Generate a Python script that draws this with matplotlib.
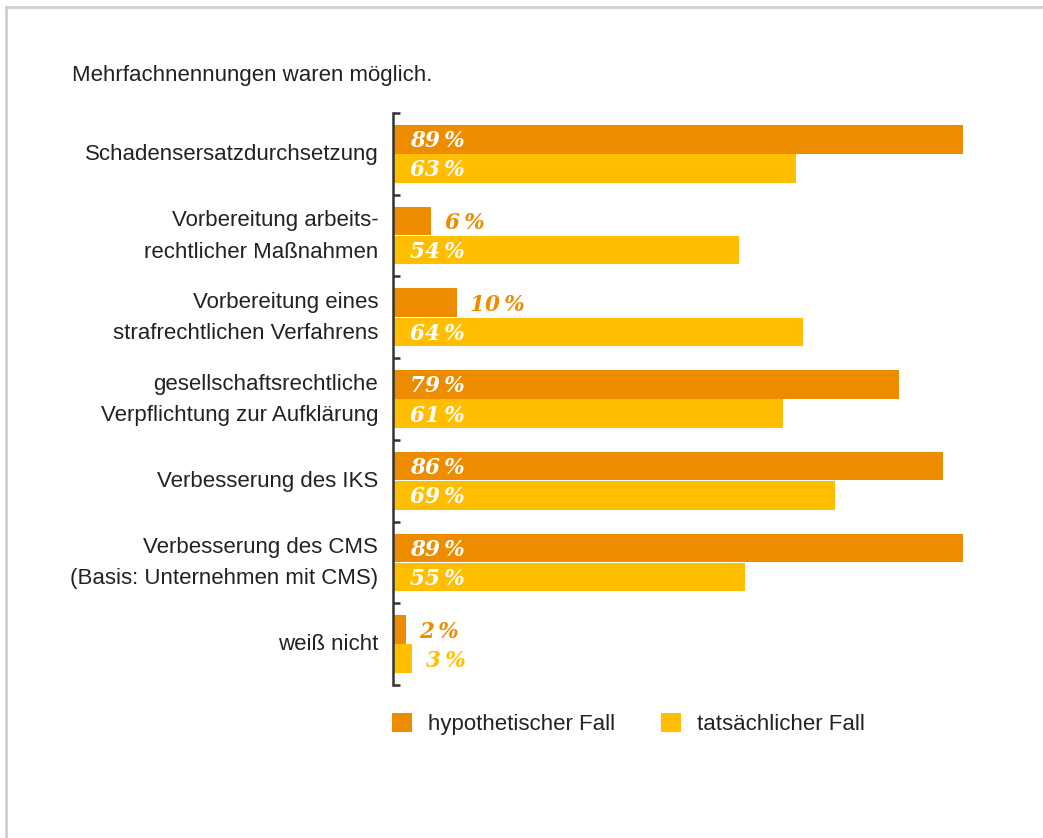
import matplotlib
matplotlib.use("Agg")
import matplotlib.pyplot as plt
from matplotlib.patches import Patch
from matplotlib.lines import Line2D

categories = [
    "Schadensersatzdurchsetzung",
    "Vorbereitung arbeits-\nrechtlicher Maßnahmen",
    "Vorbereitung eines\nstrafrechtlichen Verfahrens",
    "gesellschaftsrechtliche\nVerpflichtung zur Aufklärung",
    "Verbesserung des IKS",
    "Verbesserung des CMS\n(Basis: Unternehmen mit CMS)",
    "weiß nicht",
]
hypothetisch = [89, 6, 10, 79, 86, 89, 2]
tatsaechlich = [63, 54, 64, 61, 69, 55, 3]
series_names = ["hypothetischer Fall", "tatsächlicher Fall"]
title = "Mehrfachnennungen waren möglich."

c_hyp = "#EE8C00"
c_tat = "#FFBF00"
text_col = "#222222"

plt.rcParams['font.family'] = ['Liberation Sans', 'DejaVu Sans']

fig = plt.figure(figsize=(10.43, 8.38), dpi=100)
ax = fig.add_axes([393/1043, 1-685/838, 640/1043, 572/838])

n = len(categories)
ys = list(range(n))
h = 0.35
off = 0.178
ax.barh([y - off for y in ys], hypothetisch, height=h, color=c_hyp, zorder=2)
ax.barh([y + off for y in ys], tatsaechlich, height=h, color=c_tat, zorder=2)

ax.set_xlim(0, 100)
ax.set_ylim(n - 0.5, -0.5)

vfont = dict(family=['DejaVu Serif'], style='italic', weight='bold', fontsize=15.5)
dy = 0.025
for vals, col, sign in ((hypothetisch, c_hyp, -1), (tatsaechlich, c_tat, 1)):
    for y, v in zip(ys, vals):
        txt = f"{v}\u2009%"
        if v >= 20:
            ax.text(2.6, y + sign * off + dy, txt, color='white', va='center', ha='left', **vfont)
        else:
            ax.text(v + 2.1, y + sign * off + dy, txt, color=col, va='center', ha='left', **vfont)

# axes styling
for s in ['top', 'right', 'bottom']:
    ax.spines[s].set_visible(False)
ax.spines['left'].set_linewidth(1.8)
ax.spines['left'].set_color('#333333')
ax.set_xticks([])
ax.set_yticks([y - 0.5 for y in range(n + 1)])
ax.set_yticklabels([])
ax.tick_params(axis='y', direction='in', length=5, width=1.8, color='#333333')

for y, lab in zip(ys, categories):
    ax.text(-0.023, y + 0.01, lab, transform=ax.get_yaxis_transform(), ha='right', va='center',
            fontsize=16, color=text_col, linespacing=1.65)

fig.text(72/1043, 1-76/838, title, ha='left', va='center', fontsize=16, color=text_col)

handles = [Patch(facecolor=c_hyp, edgecolor='none'), Patch(facecolor=c_tat, edgecolor='none')]
fig.legend(handles, series_names, loc='center left', bbox_to_anchor=(392/1043, 1-724/838),
           ncol=2, frameon=False, fontsize=16, handlelength=0.9, handleheight=0.95,
           handletextpad=0.72, columnspacing=2.07, labelcolor=text_col,
           borderaxespad=0, borderpad=0)

# light frame lines (top and left)
fig.add_artist(Line2D([6/1043, 1], [1-7/838, 1-7/838], transform=fig.transFigure, color='#cfcfcf', lw=2))
fig.add_artist(Line2D([6/1043, 6/1043], [0, 1-7/838], transform=fig.transFigure, color='#cfcfcf', lw=2))

fig.savefig("out.png", dpi=100, facecolor='white')
